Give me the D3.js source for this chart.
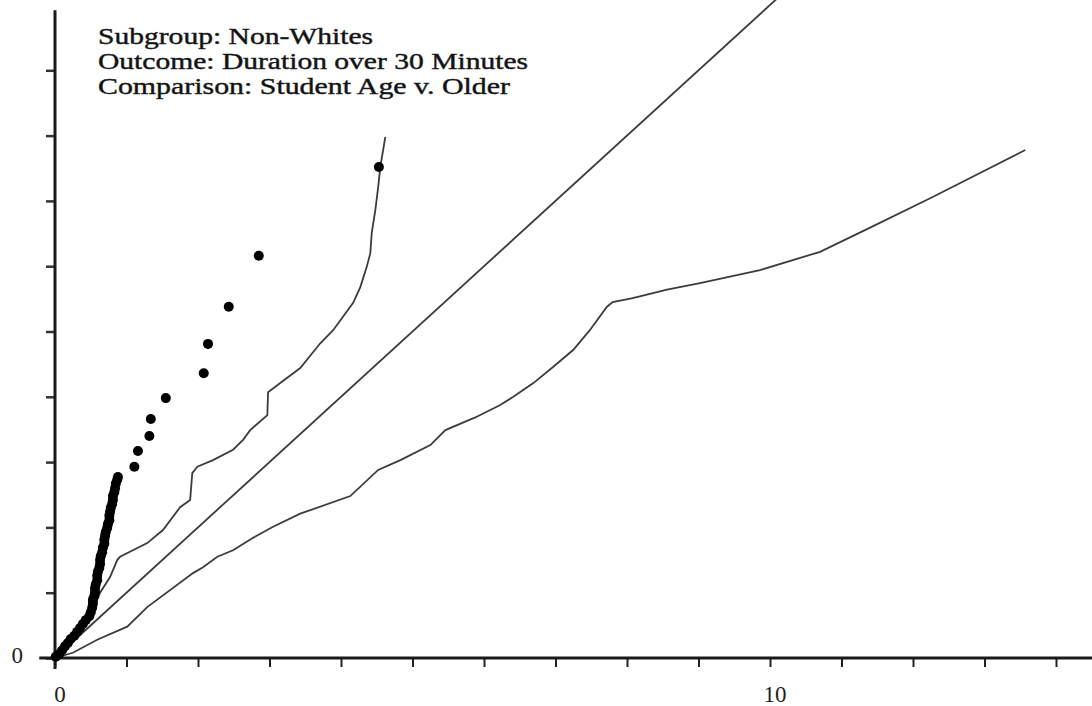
<!DOCTYPE html>
<html>
<head>
<meta charset="utf-8">
<script src="https://cdn.jsdelivr.net/npm/d3@7"></script>
<style>
  body { margin: 0; background: #fff; }
  svg { display: block; }
  .caption { font-family: "Liberation Serif", "Times New Roman", serif; font-size: 24px; fill: #111; stroke: #222; stroke-width: 0.45px; }
  .axis text { font-family: "Liberation Serif", "Times New Roman", serif; font-size: 23px; fill: #222; }
</style>
</head>
<body>
<script>
//main js file

(function(){

//caption lines in the top left corner
var captionLines = ["Subgroup: Non-Whites", "Outcome: Duration over 30 Minutes", "Comparison: Student Age v. Older"];

//tick values on both axes, only some of them carry a label
var xTicks = [0, 1, 2, 3, 4, 5, 6, 7, 8, 9, 10, 11, 12, 13, 14];
var yTicks = [0, 1, 2, 3, 4, 5, 6, 7, 8, 9];
var xLabelled = [0, 10];
var yLabelled = [0];

var pointX = [0.01, 0.06, 0.10, 0.14, 0.18, 0.22, 0.27, 0.31, 0.35, 0.39, 0.43, 0.48, 0.50,
    0.52, 0.53, 0.53, 0.55, 0.56, 0.56, 0.57, 0.59, 0.59, 0.60, 0.62, 0.63, 0.63, 0.64, 0.66,
    0.67, 0.69, 0.69, 0.70, 0.71, 0.73, 0.74, 0.76, 0.76, 0.77, 0.78, 0.80, 0.81, 0.81, 0.83,
    0.84, 0.85, 0.87, 0.88,
    1.11, 1.16, 1.32, 1.34, 1.55, 2.08, 2.14, 2.43, 2.85, 4.53];
var pointY = [0.02, 0.06, 0.12, 0.18, 0.23, 0.29, 0.34, 0.40, 0.46, 0.52, 0.58, 0.64, 0.70,
    0.77, 0.83, 0.89, 0.95, 1.01, 1.07, 1.13, 1.19, 1.26, 1.32, 1.38, 1.44, 1.50, 1.56, 1.62,
    1.69, 1.75, 1.81, 1.87, 1.93, 1.99, 2.05, 2.11, 2.18, 2.24, 2.30, 2.36, 2.42, 2.48, 2.54,
    2.60, 2.67, 2.73, 2.77,
    2.93, 3.17, 3.40, 3.66, 3.98, 4.36, 4.81, 5.38, 6.16, 7.52];

//reference line y = x
var refX = [0, 10.3];
var refY = [0, 10.3];

//upper envelope
var upperX = [0, 0.35, 0.56, 0.63, 0.77, 0.87, 0.91, 1.29, 1.51, 1.75, 1.89, 1.92, 1.99, 2.21,
    2.49, 2.63, 2.73, 2.97, 2.98, 3.15, 3.43, 3.71, 3.89, 4.17, 4.27, 4.36, 4.41, 4.43, 4.48,
    4.52, 4.55, 4.62];
var upperY = [0, 0.40, 0.81, 1.00, 1.24, 1.50, 1.55, 1.76, 1.96, 2.31, 2.42, 2.83, 2.93, 3.03,
    3.19, 3.34, 3.49, 3.72, 4.07, 4.21, 4.44, 4.82, 5.02, 5.44, 5.68, 5.99, 6.20, 6.51, 6.86,
    7.21, 7.52, 7.98];

//lower envelope
var lowerX = [0, 0.25, 0.59, 1.01, 1.29, 1.93, 2.07, 2.27, 2.49, 2.77, 3.05, 3.43, 4.13, 4.52,
    4.83, 5.25, 5.46, 5.87, 6.22, 6.41, 6.69, 6.97, 7.25, 7.48, 7.72, 7.80, 8.08, 8.56, 9.02,
    9.86, 10.70, 11.40, 12.24, 13.57];
var lowerY = [0, 0.08, 0.28, 0.48, 0.78, 1.30, 1.39, 1.55, 1.65, 1.84, 2.01, 2.21, 2.48, 2.88,
    3.03, 3.26, 3.49, 3.68, 3.87, 4.00, 4.21, 4.46, 4.72, 5.02, 5.38, 5.45, 5.51, 5.64, 5.74,
    5.94, 6.22, 6.59, 7.04, 7.78];

//begin script when window loads
window.onload = drawPlot();

function drawPlot(){
    var width = 1092,
        height = 706;

    var svg = d3.select("body")
        .append("svg")
        .attr("width", width)
        .attr("height", height);

    //scales, one unit per tick
    var x = d3.scaleLinear().domain([0, 10]).range([55, 770]);
    var y = d3.scaleLinear().domain([0, 10]).range([658, 5]);

    var line = d3.line()
        .x(function(d){ return x(d[0]); })
        .y(function(d){ return y(d[1]); });

    //axes
    var xAxis = d3.axisBottom(x)
        .tickValues(xTicks)
        .tickSize(9)
        .tickPadding(19)
        .tickFormat(function(d){ return xLabelled.indexOf(d) >= 0 ? d : ""; });

    var yAxis = d3.axisLeft(y)
        .tickValues(yTicks)
        .tickSize(9)
        .tickPadding(23)
        .tickFormat(function(d){ return yLabelled.indexOf(d) >= 0 ? d : ""; });

    var gx = svg.append("g")
        .attr("class", "axis")
        .attr("transform", "translate(0," + y(0) + ")")
        .call(xAxis);
    gx.select(".domain").remove();
    gx.selectAll(".tick line").attr("stroke", "#222").attr("stroke-width", 2);
    gx.selectAll(".tick text").attr("dx", "0.2em");

    var gy = svg.append("g")
        .attr("class", "axis")
        .attr("transform", "translate(" + x(0) + ",0)")
        .call(yAxis);
    gy.select(".domain").remove();
    gy.selectAll(".tick line").attr("stroke", "#333").attr("stroke-width", 2.5);
    gy.selectAll(".tick text").attr("dy", "0.2em");

    //axis lines, a little overhang past the origin
    svg.append("line")
        .attr("x1", x(-0.22)).attr("x2", width)
        .attr("y1", y(0)).attr("y2", y(0))
        .attr("stroke", "#1a1a1a")
        .attr("stroke-width", 3);

    svg.append("line")
        .attr("x1", x(0)).attr("x2", x(0))
        .attr("y1", y(-0.17)).attr("y2", y(9.92))
        .attr("stroke", "#1a1a1a")
        .attr("stroke-width", 3);

    //reference and envelope lines
    var series = [
        d3.zip(refX, refY),
        d3.zip(upperX, upperY),
        d3.zip(lowerX, lowerY)
    ];

    svg.selectAll(".envelope")
        .data(series)
        .enter()
        .append("path")
        .attr("class", "envelope")
        .attr("d", line)
        .attr("fill", "none")
        .attr("stroke", "#3c3c3c")
        .attr("stroke-width", 1.8);

    //observed points
    svg.selectAll(".point")
        .data(d3.zip(pointX, pointY))
        .enter()
        .append("circle")
        .attr("class", "point")
        .attr("cx", function(d){ return x(d[0]); })
        .attr("cy", function(d){ return y(d[1]); })
        .attr("r", 5)
        .attr("fill", "#000");

    //caption
    var captionWidths = [275, 430, 412];
    svg.selectAll(".caption")
        .data(captionLines)
        .enter()
        .append("text")
        .attr("class", "caption")
        .attr("x", 98)
        .attr("y", function(d, i){ return 44 + i * 25; })
        .attr("textLength", function(d, i){ return captionWidths[i]; })
        .attr("lengthAdjust", "spacingAndGlyphs")
        .text(function(d){ return d; });
};

})();
</script>
</body>
</html>
